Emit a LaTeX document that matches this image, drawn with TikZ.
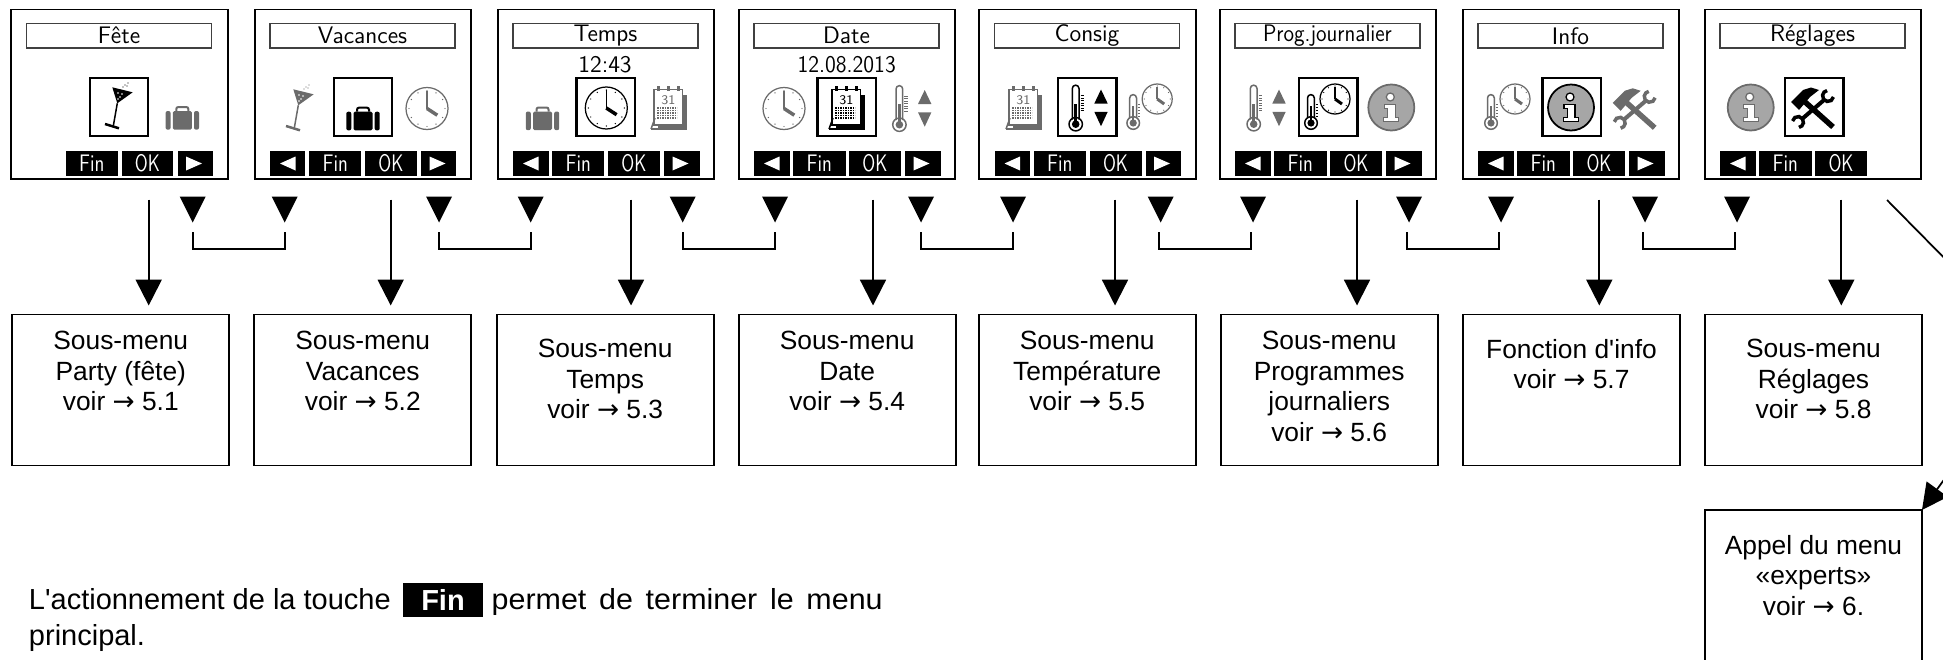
\documentclass[tikz,border=0pt]{standalone}
\usepackage{fontspec}
\setmainfont{Liberation Sans}[Ligatures=TeXOff]
\newfontfamily\arrowfont{DejaVu Sans}
\usetikzlibrary{arrows.meta}

\newcommand{\toarrow}{{\arrowfont →}}

\tikzset{
	lcdfont/.style={font=\sffamily\fontsize{13.6}{15}\selectfont},
	bodyfont/.style={font=\fontsize{15}{17.4}\selectfont},
	screen/.style={draw, line width=0.04cm, anchor=north west, minimum width=4.34cm, minimum height=3.4cm, inner sep=0, outer sep=0},
	titlebox/.style={draw=black!75, line width=0.03cm, anchor=north west, minimum width=3.7cm, minimum height=0.49cm, inner sep=0, outer sep=0, lcdfont},
	selbox/.style={draw, line width=0.05cm, minimum width=1.17cm, minimum height=1.17cm, inner sep=0, outer sep=0},
	keybox/.style={fill=black, text=white, anchor=north west, minimum height=0.52cm, inner sep=0, outer sep=0, lcdfont},
	subbox/.style={draw, line width=0.035cm, anchor=north west, minimum width=4.34cm, minimum height=3.02cm, inner sep=0, outer sep=0},
	subtext/.style={anchor=north, align=center, inner sep=0, outer sep=0, bodyfont, execute at begin node=\strut},
	bigarrow/.style={line width=0.045cm, -{Triangle[length=14.7pt, width=14.7pt]}, shorten >=0.18cm},
	thinarrow/.style={line width=0.035cm, -{Triangle[length=14.7pt, width=14.7pt]}},
	bracketline/.style={line width=0.035cm},
	plaintext/.style={anchor=base west, inner sep=0, outer sep=0, font=\fontsize{16.5}{19}\selectfont},
	selicon/.style={color=black},
	dimicon/.style={color=black!58},
	cocktailicon/.pic={
		\fill (-6.7,-18.7) -- (13.7,-13.7) -- (-1.7,-2.7) -- cycle;
		\foreach \a/\b in {-1/-13,3/-12,1/-9,-1/-7}
			\fill [white] (\a,\b) circle (0.9);
		\draw [line width=0.03cm] (-1.7,-2.7) -- (-5.7,20);
		\draw [line width=0.05cm] (-14,18) -- (0,22.3);
		\foreach \a/\b in {4/-19,6/-21,8/-20,9/-23}
			\fill (\a,\b) circle (0.6);
	},
	suitcaseicon/.pic={
		\fill [rounded corners=0.03cm] (-9.5,-7) rectangle (9.5,11.7);
		\fill [rounded corners=0.04cm] (-16.7,-7) rectangle (-11.7,11.7);
		\fill [rounded corners=0.04cm] (11.7,-7) rectangle (16.7,11.7);
		\draw [line width=0.04cm, rounded corners=0.04cm] (-6,-7) -- (-6,-11) -- (6,-11) -- (6,-7);
	},
	clockicon/.pic={
		\draw [line width=0.025cm] (0,0) circle (21);
		\foreach \a in {0,30,...,330}
			\fill ({18*cos(\a)},{18*sin(\a)}) circle (0.7);
		\draw [line width=0.03cm] (0,0) -- (0,-18);
		\draw [line width=0.07cm] (0,0) -- (10.3,6.7);
	},
	calendaricon/.pic={
		\fill (-11,-13) rectangle (18,20);
		\draw [line width=0.03cm, fill=white] (-15,-18.7) rectangle (13.7,17);
		\draw [line width=0.04cm] (-18,21) -- (18,21);
		\draw [line width=0.03cm] (-14,10) -- (-18,21);
		\foreach \a in {-10.7,-0.7,9.3}
			\draw [line width=0.06cm] (\a,-22) -- (\a,-17.5);
		\node [inner sep=0, font=\sffamily\fontsize{7.5}{8}\selectfont] (caldate) at (-0.7,-8) {31};
		\foreach \b in {0,2.5,...,10}
			\draw [line width=0.03cm, dash pattern=on 0.03cm off 0.02cm] (-11.7,\b) -- (8.3,\b);
	},
	thermoicon/.pic={
		\draw [line width=0.03cm] (-15.7,12) -- (-15.7,-19) arc [start angle=180, end angle=360, x radius=3.35, y radius=3.35] -- (-9,12);
		\draw [line width=0.03cm] (-12.3,16.7) circle (6.7);
		\fill (-13.6,-4) rectangle (-11,14);
		\fill (-12.3,16.7) circle (3.8);
		\foreach \b in {-12,-9.5,...,3}
			\draw [line width=0.02cm] (-7.5,\b) -- (-4,\b);
		\fill (13,-18) -- (19.7,-4) -- (6.3,-4) -- cycle;
		\fill (13,18.7) -- (19.7,4.3) -- (6.3,4.3) -- cycle;
	},
	thermoclockicon/.pic={
		\draw [line width=0.03cm] (-20,11) -- (-20,-9) arc [start angle=180, end angle=360, x radius=3.4, y radius=3.4] -- (-13.2,11);
		\draw [line width=0.03cm] (-16.5,16) circle (6.3);
		\fill (-17.7,-1) rectangle (-15.3,14);
		\fill (-16.5,16) circle (3.6);
		\foreach \b in {-3,0,...,9}
			\draw [line width=0.02cm] (-12,\b) -- (-10,\b);
		\begin{scope}[shift={(7.5,-8)}]
			\draw [line width=0.025cm] (0,0) circle (15);
			\foreach \a in {0,30,...,330}
				\fill ({13*cos(\a)},{13*sin(\a)}) circle (0.6);
			\draw [line width=0.03cm] (0,0) -- (0,-12);
			\draw [line width=0.06cm] (0,0) -- (7,5);
		\end{scope}
	},
	infoicon/.pic={
		\fill [black!35] (0,0) circle (23);
		\draw [line width=0.035cm] (0,0) circle (23);
		\draw [line width=0.025cm, fill=white] (-7,-3) -- (4,-3) -- (4,10) -- (7.5,10) -- (7.5,14) -- (-7.5,14) -- (-7.5,10) -- (-3.5,10) -- (-3.5,1) -- (-7,1) -- cycle;
		\draw [line width=0.025cm, fill=white] (-1,-10.5) circle (4);
	},
	toolsicon/.pic={
		\draw [line width=0.08cm] (11,-8) -- (-11,11);
		\draw [line width=0.07cm] ([shift={(10:5.5)}]15,-12) arc [start angle=10, end angle=260, radius=5.5];
		\draw [line width=0.07cm] ([shift={(190:5.5)}]-15,14) arc [start angle=190, end angle=440, radius=5.5];
		\draw [line width=0.11cm] (-8,-6) -- (20,19);
		\fill (-22,-6) -- (-10,-18) -- (-2,-20.5) -- (6,-18) -- (-3,-11) -- (-14,2) -- cycle;
	}
}

\begin{document}
\begin{tikzpicture}[x=0.02cm, y=-0.02cm]
	\path [use as bounding box, clip] (0,0) rectangle (1943,659);

	\foreach \i/\xs/\xc/\ttl in {1/11/119/F\^ete, 2/254.5/363/Vacances, 3/497.5/605.5/Temps, 4/738.5/846.5/Date, 5/979/1087/Consig, 6/1219.5/1328/{\scalebox{.9}[1]{Prog.journalier}}, 7/1462.5/1571.5/Info, 8/1704.5/1814/R\'eglages} {
		\node [screen] (scr\i) at (\xs,9.5) {};
		\node [titlebox] (ttl\i) at (\xs+15.5,23.5) {\ttl};
		\node [selbox] (sel\i) at (\xc,107) {};
		\node [keybox, minimum width=1.05cm] (fin\i) at (\xs+15.5+39,150.5) {\scalebox{.82}[1]{Fin}};
		\node [keybox, minimum width=1.04cm] (ok\i) at (\xs+15.5+95,150.5) {\scalebox{.75}[1]{OK}};
	}

	\foreach \i/\xs in {2/254.5, 3/497.5, 4/738.5, 5/979, 6/1219.5, 7/1462.5, 8/1704.5} {
		\node [keybox, minimum width=0.71cm] (prev\i) at (\xs+15.5,150.5) {};
		\fill [white] (\xs+25.5,163.5) -- (\xs+41,156.5) -- (\xs+41,170.5) -- cycle;
	}

	\foreach \i/\xs in {1/11, 2/254.5, 3/497.5, 4/738.5, 5/979, 6/1219.5, 7/1462.5} {
		\node [keybox, minimum width=0.71cm] (next\i) at (\xs+15.5+151,150.5) {};
		\fill [white] (\xs+175,156.5) -- (\xs+191,163.5) -- (\xs+175,170.5) -- cycle;
	}

	\node [lcdfont] (clockval) at (605,64.5) {12:43};
	\node [lcdfont] (dateval) at (846.7,64.5) {\scalebox{.92}[1]{12.08.2013}};

	\pic [selicon] at (119,106) {cocktailicon};
	\pic [dimicon] at (182.3,118) {suitcaseicon};
	\pic [dimicon] at (300,108) {cocktailicon};
	\pic [selicon] at (363,118.7) {suitcaseicon};
	\pic [dimicon] at (427,108.5) {clockicon};
	\pic [dimicon] at (542.5,118.5) {suitcaseicon};
	\pic [selicon] at (606.3,108) {clockicon};
	\pic [dimicon] at (669,108) {calendaricon};
	\pic [dimicon] at (784,108.5) {clockicon};
	\pic [selicon] at (847,108) {calendaricon};
	\pic [dimicon] at (911.7,108) {thermoicon};
	\pic [dimicon] at (1024,108) {calendaricon};
	\pic [selicon] at (1088,107.5) {thermoicon};
	\pic [dimicon] at (1149.7,107) {thermoclockicon};
	\pic [dimicon] at (1266,107.5) {thermoicon};
	\pic [selicon] at (1327.5,107) {thermoclockicon};
	\pic [dimicon] at (1391.3,107.5) {infoicon};
	\pic [dimicon] at (1507.5,107) {thermoclockicon};
	\pic [selicon] at (1571,107.5) {infoicon};
	\pic [dimicon] at (1634.7,108.8) {toolsicon};
	\pic [dimicon] at (1750.7,107.5) {infoicon};
	\pic [selicon] at (1813,108) {toolsicon};

	\foreach \i/\ta/\tb/\sa/\sb in {1/192.7/284.7/192.7/284.7, 2/439/530.7/438.7/530.7, 3/682.7/775/683/775, 4/921/1013/921/1013, 5/1160.7/1253/1159/1251, 6/1409/1501/1407/1499.3, 7/1645/1737/1643.3/1735.3} {
		\fill (\ta-13,196.5) -- (\ta+13,196.5) -- (\ta,222.5) -- cycle;
		\fill (\tb-13,196.5) -- (\tb+13,196.5) -- (\tb,222.5) -- cycle;
		\coordinate (brl\i) at (\sa,232);
		\coordinate (brr\i) at (\sb,232);
		\draw [bracketline] (brl\i) -- ++(0,16.7) -| (brr\i);
	}

	\foreach \i/\xb/\xa/\off/\txt in {
		1/12.3/148.7/16.7/{Sous-menu\\Party (fête)\\voir \toarrow{} 5.1},
		2/254.3/390.7/16.7/{Sous-menu\\Vacances\\voir \toarrow{} 5.2},
		3/496.7/631/24.7/{Sous-menu\\Temps\\voir \toarrow{} 5.3},
		4/738.7/873/16.7/{Sous-menu\\Date\\voir \toarrow{} 5.4},
		5/978.7/1115/16.7/{Sous-menu\\Température\\voir \toarrow{} 5.5},
		6/1220.7/1357/16.7/{Sous-menu\\Programmes\\journaliers\\voir \toarrow{} 5.6},
		7/1463/1599.3/24.7/{Fonction d'info\\voir \toarrow{} 5.7},
		8/1705/1841.3/24.7/{Sous-menu\\Réglages\\voir \toarrow{} 5.8}} {
		\node [subbox] (sub\i) at (\xb,314.5) {};
		\node [subtext] (subtxt\i) at ([yshift=-\off*0.02cm]sub\i.north) {\txt};
		\coordinate (top\i) at (\xa,199.5);
		\draw [bigarrow] (top\i) -- (top\i |- sub\i.north);
	}

	\node [subbox, minimum height=3.2cm] (sub9) at (1705,510) {};
	\node [subtext] (subtxt9) at ([yshift=-0.5cm]sub9.north) {Appel du menu\\«experts»\\voir \toarrow{} 6.};
	\coordinate (diagstart) at (1887,200);
	\coordinate (diagbend) at (2037,352);
	\draw [thinarrow] (diagstart) -- (diagbend) -- (sub9.north east);

	\node [plaintext] (note1) at (29,609) {L'actionnement de la touche};
	\node [fill=black, text=white, minimum width=1.6cm, minimum height=0.67cm, inner sep=0, font=\fontsize{16.5}{19}\selectfont\bfseries] (finkey) at (443,600) {Fin};
	\node [plaintext] (note2) at (491.7,609) {\scalebox{1.05}[1]{\spaceskip=6.9pt permet de terminer le menu}};
	\node [plaintext] (note3) at (29,645) {principal.};
\end{tikzpicture}
\end{document}
